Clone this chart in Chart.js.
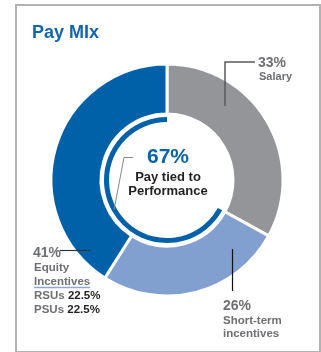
<!DOCTYPE html>
<html>
<head>
<meta charset="utf-8">
<script src="https://cdn.jsdelivr.net/npm/chart.js@4/dist/chart.umd.min.js"></script>
<style>
  html, body { margin:0; padding:0; background:#fff; }
  body { width:321px; height:352px; position:relative; overflow:hidden;
         font-family:"Liberation Sans", Arial, sans-serif; font-weight:bold; }
  #frame { position:absolute; left:15px; top:4px; width:302px; height:345px; border:2px solid #b2b2b2; }
  #wrap { position:absolute; left:0; top:0; width:321px; height:352px; }
  .t { position:absolute; white-space:nowrap; line-height:1; }
  .g { color:#6e6f72; }
  .k { color:#231f20; }
</style>
</head>
<body>
<div id="frame"></div>
<div id="wrap"><canvas id="c" width="321" height="352"></canvas></div>
<div class="t" style="left:32px;top:23px;font-size:18px;color:#1565ad;">Pay MIx</div>

<div class="t" style="left:118px;width:100px;text-align:center;top:145px;font-size:21px;color:#0a62aa;">67%</div>
<div class="t k" style="left:118px;width:100px;text-align:center;top:170px;font-size:13px;">Pay tied to</div>
<div class="t k" style="left:118px;width:100px;text-align:center;top:184px;font-size:13px;">Performance</div>

<div class="t g" style="left:258px;top:55px;font-size:14px;">33%</div>
<div class="t g" style="left:259px;top:71px;font-size:11px;">Salary</div>

<div class="t g" style="left:223px;top:298px;font-size:14px;">26%</div>
<div class="t g" style="left:223px;top:315px;font-size:11.5px;">Short-term</div>
<div class="t g" style="left:223px;top:328px;font-size:11.5px;">incentives</div>

<div class="t g" style="left:33px;top:245px;font-size:14px;">41%</div>
<div class="t g" style="left:34px;top:262px;font-size:11.5px;">Equity</div>
<div class="t g" style="left:34px;top:276px;font-size:11.5px;">Incentives</div>
<div class="t g" style="left:34px;top:290px;font-size:11.5px;">RSUs <span class="k">22.5%</span></div>
<div class="t g" style="left:34px;top:304px;font-size:11.5px;">PSUs <span class="k">22.5%</span></div>

<script>
// ---- data ----
const categories = ['Salary', 'Short-term incentives', 'Equity Incentives'];
const mixValues = [33, 26, 41];
const performanceLabels = ['Fixed', 'Pay tied to Performance'];
const performanceValues = [33, 67];
const equitySplitLabels = ['RSUs', 'PSUs'];
const equitySplitValues = [22.5, 22.5];

const DARK = '#0060a8', GRAY = '#939598', LIGHT = '#819fcf';

const leaders = {
  id: 'leaders',
  afterDraw(chart) {
    const ctx = chart.ctx;
    ctx.save();
    // salary
    ctx.strokeStyle = '#58595b'; ctx.lineWidth = 1.5;
    ctx.beginPath(); ctx.moveTo(255, 62); ctx.lineTo(225, 62); ctx.lineTo(225, 106); ctx.stroke();
    // short-term
    ctx.strokeStyle = '#111'; ctx.lineWidth = 1.2;
    ctx.beginPath(); ctx.moveTo(232.5, 249); ctx.lineTo(232.5, 291); ctx.stroke();
    // equity
    ctx.strokeStyle = '#333'; ctx.lineWidth = 1.2;
    ctx.beginPath(); ctx.moveTo(60, 250.5); ctx.lineTo(90, 250.5); ctx.stroke();
    ctx.strokeStyle = '#8fa9d5'; ctx.lineWidth = 1.5;
    ctx.beginPath(); ctx.moveTo(34, 287.5); ctx.lineTo(90, 287.5); ctx.stroke();
    // performance
    ctx.strokeStyle = '#888'; ctx.lineWidth = 1;
    ctx.beginPath(); ctx.moveTo(133, 157.5); ctx.lineTo(124, 157.5); ctx.lineTo(114, 210); ctx.stroke();
    ctx.restore();
  }
};

new Chart(document.getElementById('c'), {
  type: 'doughnut',
  data: {
    labels: categories,
    datasets: [
      { data: mixValues, backgroundColor: [GRAY, LIGHT, DARK], borderColor: '#fff', borderWidth: 3, weight: 50 },
      { data: [1], backgroundColor: 'rgba(0,0,0,0)', borderWidth: 0, weight: 3 },
      { data: performanceValues, backgroundColor: ['rgba(0,0,0,0)', DARK], borderWidth: 0, weight: 5 }
    ]
  },
  options: {
    responsive: false,
    animation: false,
    radius: 116,
    cutout: '50%',
    hoverOffset: 0,
    layout: { padding: { left: 13, right: 0, top: 8, bottom: 0 } },
    plugins: { legend: { display: false }, tooltip: { enabled: false } }
  },
  plugins: [leaders]
});
</script>
</body>
</html>
